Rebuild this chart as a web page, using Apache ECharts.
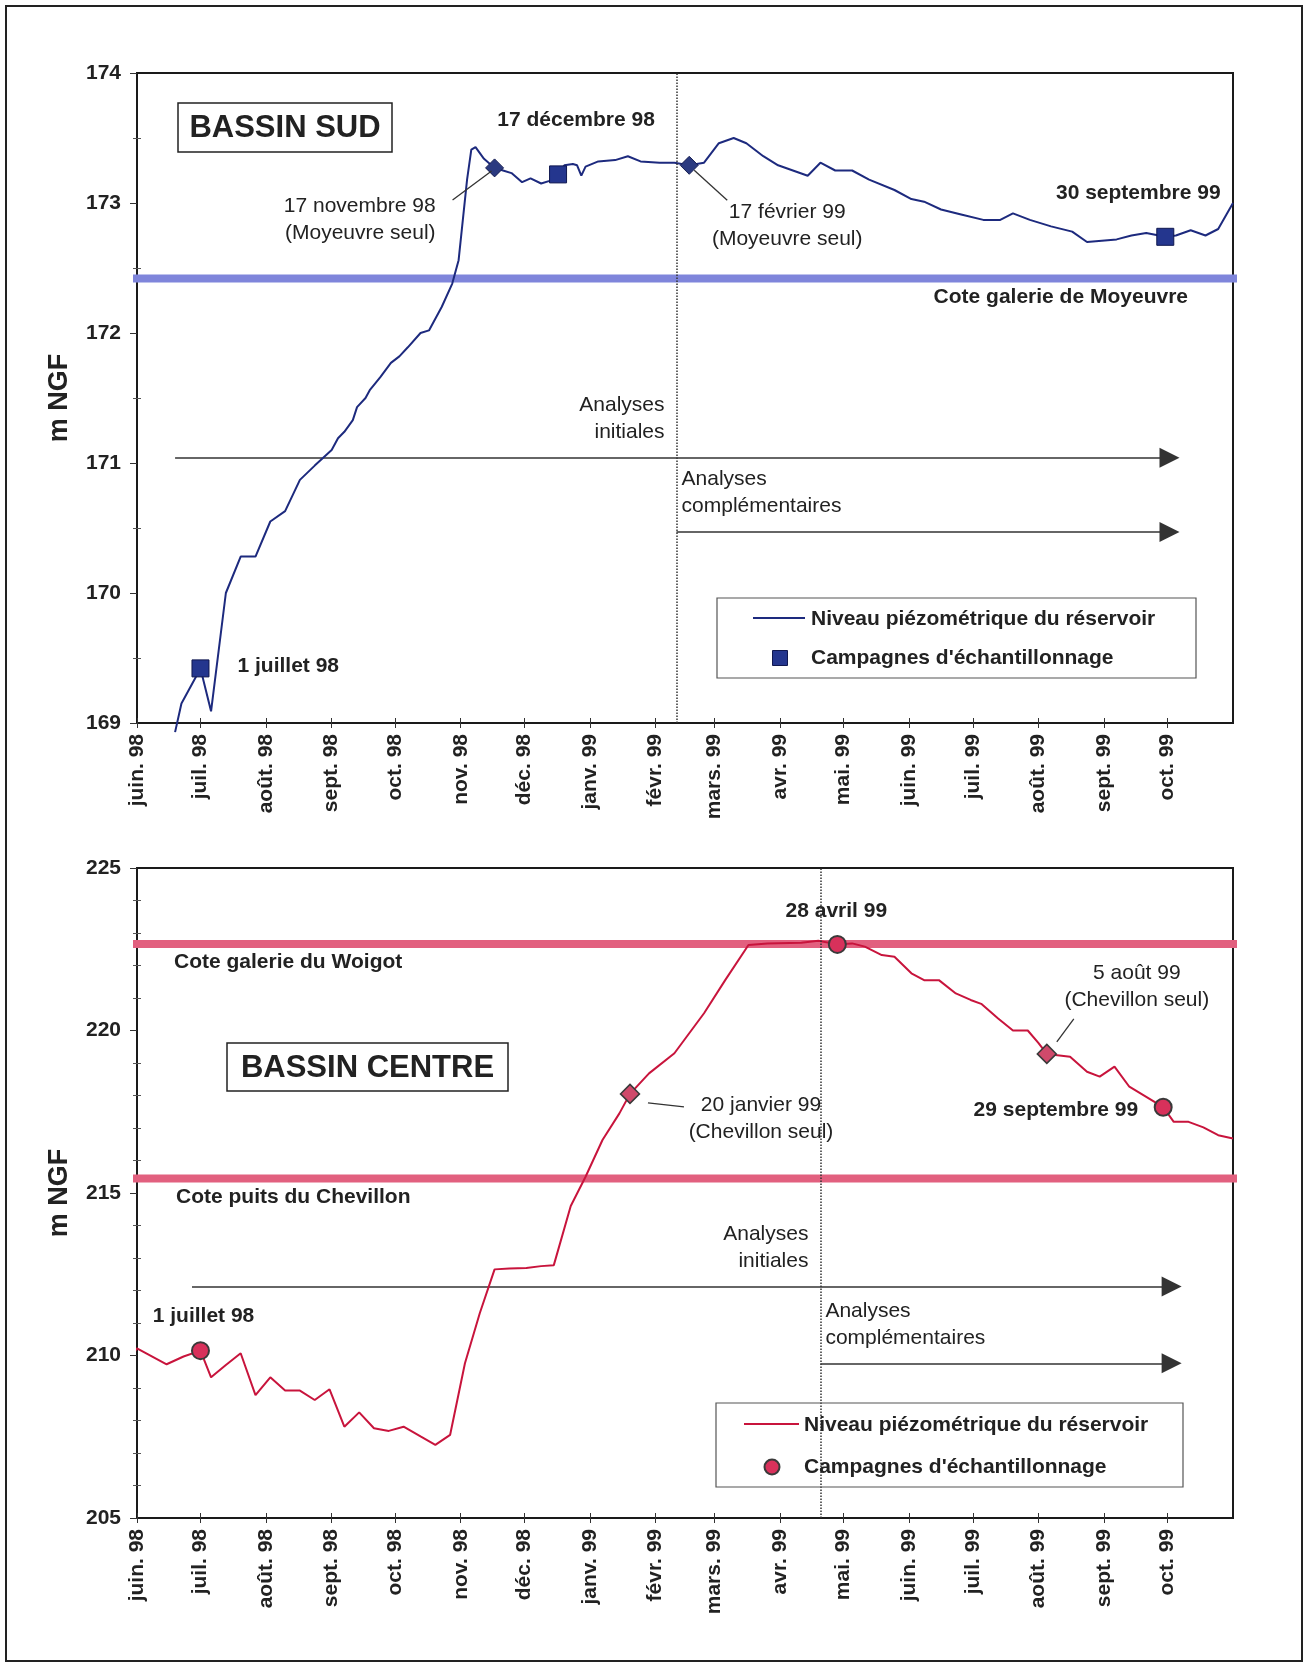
<!DOCTYPE html>
<html lang="fr">
<head>
<meta charset="utf-8">
<title>Niveaux piézométriques – Bassins Sud et Centre</title>
<script src="https://cdn.jsdelivr.net/npm/echarts@6.0.0/dist/echarts.min.js"></script>
<style>
  html, body { margin: 0; padding: 0; background: #fff; }
  #page { position: relative; width: 1305px; height: 1667px; background: #fff; overflow: hidden; }
  #sud { position: absolute; left: 0; top: 0; width: 1305px; height: 830px; }
  #centre { position: absolute; left: 0; top: 830px; width: 1305px; height: 837px; }
  #frame { position: absolute; left: 5px; top: 5px; width: 1298px; height: 1657px; box-sizing: border-box;
           border: 2px solid #222; pointer-events: none; z-index: 10; }
</style>
</head>
<body>
<div id="page">
  <div id="sud"></div>
  <div id="centre"></div>
  <div id="frame"></div>
</div>
<script>
// ---- Time axis: one tick per month, June 1998 to October 1999 ----
const monthTicks = ['1998-06-01','1998-07-01','1998-08-01','1998-09-01','1998-10-01','1998-11-01',
  '1998-12-01','1999-01-01','1999-02-01','1999-03-01','1999-04-01','1999-05-01','1999-06-01',
  '1999-07-01','1999-08-01','1999-09-01','1999-10-01'];
const monthLabels = ['juin. 98','juil. 98','août. 98','sept. 98','oct. 98','nov. 98','déc. 98',
  'janv. 99','févr. 99','mars. 99','avr. 99','mai. 99','juin. 99','juil. 99','août. 99','sept. 99','oct. 99'];
const axisStart = '1998-06-01';
const axisEnd = '1999-11-01';

// ---- Bassin Sud: reservoir level (m NGF) ----
const sudDates = ['1998-06-19','1998-06-22','1998-07-01','1998-07-06','1998-07-13','1998-07-20','1998-07-27',
  '1998-08-03','1998-08-10','1998-08-17','1998-08-24','1998-09-01','1998-09-04','1998-09-07','1998-09-11',
  '1998-09-13','1998-09-17','1998-09-19','1998-09-24','1998-09-29','1998-10-03','1998-10-07','1998-10-13',
  '1998-10-17','1998-10-23','1998-10-28','1998-10-31','1998-11-02','1998-11-04','1998-11-06','1998-11-08',
  '1998-11-12','1998-11-17','1998-11-21','1998-11-25','1998-11-30','1998-12-04','1998-12-09','1998-12-13',
  '1998-12-17','1998-12-20','1998-12-24','1998-12-26','1998-12-28','1998-12-30','1999-01-05','1999-01-13',
  '1999-01-19','1999-01-25','1999-02-03','1999-02-10','1999-02-17','1999-02-24','1999-03-03','1999-03-10',
  '1999-03-16','1999-03-24','1999-03-31','1999-04-07','1999-04-14','1999-04-20','1999-04-27','1999-05-05',
  '1999-05-13','1999-05-25','1999-06-02','1999-06-08','1999-06-16','1999-06-26','1999-07-06','1999-07-14',
  '1999-07-20','1999-07-28','1999-08-07','1999-08-17','1999-08-24','1999-08-31','1999-09-07','1999-09-14',
  '1999-09-21','1999-09-30','1999-10-05','1999-10-12','1999-10-19','1999-10-25','1999-11-01'];
const sudLevels = [168.93,169.15,169.42,169.09,170.00,170.28,170.28,
  170.55,170.63,170.87,170.98,171.10,171.19,171.24,171.33,
  171.43,171.50,171.56,171.66,171.77,171.82,171.89,172.00,
  172.02,172.20,172.38,172.56,172.87,173.18,173.41,173.43,
  173.34,173.27,173.25,173.23,173.16,173.19,173.15,173.17,
  173.22,173.29,173.30,173.29,173.21,173.28,173.32,173.33,
  173.36,173.32,173.31,173.31,173.29,173.31,173.46,173.50,
  173.46,173.36,173.29,173.25,173.21,173.31,173.25,173.25,
  173.18,173.10,173.03,173.01,172.95,172.91,172.87,172.87,
  172.92,172.87,172.82,172.78,172.70,172.71,172.72,172.75,
  172.77,172.74,172.75,172.79,172.75,172.80,173.00];
const sudCampaignDates = ['1998-07-01','1998-12-17','1999-09-30'];
const sudCampaignLevels = [169.42, 173.22, 172.74];
const sudSingleDates = ['1998-11-17','1999-02-17'];
const sudSingleLevels = [173.27, 173.29];
const sudGalleryLevel = 172.42;        // cote galerie de Moyeuvre
const sudSplitDate = '1999-02-11';

// ---- Bassin Centre: reservoir level (m NGF) ----
const centreDates = ['1998-05-27','1998-06-01','1998-06-15','1998-06-23','1998-07-01','1998-07-06','1998-07-13',
  '1998-07-20','1998-07-27','1998-08-03','1998-08-10','1998-08-17','1998-08-24','1998-08-31','1998-09-07',
  '1998-09-14','1998-09-21','1998-09-28','1998-10-05','1998-10-13','1998-10-20','1998-10-27','1998-11-03',
  '1998-11-10','1998-11-17','1998-11-24','1998-12-02','1998-12-09','1998-12-15','1998-12-23','1998-12-30',
  '1999-01-07','1999-01-15','1999-01-20','1999-01-29','1999-02-10','1999-02-24','1999-03-06','1999-03-17',
  '1999-03-26','1999-04-11','1999-04-19','1999-04-28','1999-05-05','1999-05-11','1999-05-19','1999-05-25',
  '1999-06-02','1999-06-08','1999-06-15','1999-06-23','1999-06-30','1999-07-05','1999-07-13','1999-07-20',
  '1999-07-27','1999-08-01','1999-08-05','1999-08-16','1999-08-24','1999-08-30','1999-09-06','1999-09-13',
  '1999-09-21','1999-09-29','1999-10-04','1999-10-11','1999-10-18','1999-10-25','1999-11-01'];
const centreLevels = [209.76,210.22,209.73,209.97,210.15,209.33,209.71,
  210.07,208.78,209.33,208.92,208.92,208.63,208.96,207.81,
  208.25,207.76,207.68,207.81,207.51,207.25,207.56,209.76,
  211.30,212.65,212.68,212.69,212.75,212.78,214.60,215.50,
  216.63,217.45,218.05,218.68,219.30,220.53,221.55,222.63,
  222.68,222.70,222.76,222.65,222.68,222.58,222.32,222.27,
  221.76,221.55,221.55,221.14,220.94,220.82,220.37,220.00,
  220.00,219.62,219.28,219.19,218.73,218.58,218.89,218.27,
  217.96,217.64,217.19,217.19,217.02,216.78,216.68];
const centreCampaignDates = ['1998-07-01','1999-04-28','1999-09-29'];
const centreCampaignLevels = [210.15, 222.65, 217.64];
const centreSingleDates = ['1999-01-20','1999-08-05'];
const centreSingleLevels = [218.05, 219.28];
const centreGalleryLevel = 222.66;     // cote galerie du Woigot
const centreShaftLevel = 215.45;       // cote puits du Chevillon
const centreSplitDate = '1999-04-20';

// ---- helpers ----
const FONT = "'Liberation Sans', Arial, Helvetica, sans-serif";
const INK = '#222';
const DAY0 = Date.UTC(1998, 5, 1);
function dayOf(iso) {
  const p = iso.split('-').map(Number);
  return (Date.UTC(p[0], p[1] - 1, p[2]) - DAY0) / 86400000;
}
function pairs(dates, values) { return dates.map((d, i) => [dayOf(d), values[i]]); }
const tickDays = monthTicks.map(dayOf);
const xMin = dayOf(axisStart);
const xMax = dayOf(axisEnd);
const LINE_NAME = 'Niveau piézométrique du réservoir';
const MARK_NAME = "Campagnes d'échantillonnage";

// ---- panel layouts ----
const panels = [
  {
    el: 'sud',
    grid: { left: 137, top: 73, width: 1096, height: 650 },
    y: { min: 169, max: 174, interval: 1, minor: 2 },
    line: { dates: sudDates, levels: sudLevels, color: '#1d2a7e' },
    campaigns: { dates: sudCampaignDates, levels: sudCampaignLevels, symbol: 'rect', size: 17,
                 color: '#24368e', border: '#10184f', borderWidth: 1 },
    single: { dates: sudSingleDates, levels: sudSingleLevels, size: 18,
              color: '#2b3a80', border: '#141c50', borderWidth: 1 },
    bands: [{ level: sudGalleryLevel, color: '#7f85db' }],
    split: sudSplitDate,
    arrows: [{ from: '1998-06-19', to: '1999-10-02', level: 171.04 },
             { from: sudSplitDate, to: '1999-10-02', level: 170.47 }],
    notes: [
      { mark: 'campaigns', i: 1, text: '17 décembre 98', bold: true, dx: 18, dy: -54 },
      { mark: 'single', i: 0, text: '17 novembre 98\n(Moyeuvre seul)', dx: -59, dy: 52, align: 'right',
        leader: [-3, 3, -42, 32] },
      { mark: 'single', i: 1, text: '17 février 99\n(Moyeuvre seul)', dx: 98, dy: 60, leader: [5, 5, 38, 35] },
      { mark: 'campaigns', i: 2, text: '30 septembre 99', bold: true, dx: -27, dy: -44 },
      { mark: 'campaigns', i: 0, text: '1 juillet 98', bold: true, dx: 37, dy: -2, align: 'left' }
    ],
    bandNotes: [{ band: 0, side: 'right', text: 'Cote galerie de Moyeuvre', dx: -45, dy: 19, align: 'right' }],
    arrowNotes: [
      { arrow: 0, text: 'Analyses\ninitiales', dx: -12, dy: -39, align: 'right' },
      { arrow: 1, text: 'Analyses\ncomplémentaires', dx: 5, dy: -39, align: 'left' }
    ],
    box: { x: 178, y: 103, w: 214, h: 49, text: 'BASSIN SUD' },
    legend: { x: 717, y: 598, w: 479, h: 80, lineY: 618, lineX1: 753, lineX2: 805, textX: 811,
              markX: 780, markY: 658 }
  },
  {
    el: 'centre',
    grid: { left: 137, top: 38, width: 1096, height: 650 },
    y: { min: 205, max: 225, interval: 5, minor: 5 },
    line: { dates: centreDates, levels: centreLevels, color: '#c8143c' },
    campaigns: { dates: centreCampaignDates, levels: centreCampaignLevels, symbol: 'circle', size: 17,
                 color: '#d8315b', border: '#3a3a3a', borderWidth: 2 },
    single: { dates: centreSingleDates, levels: centreSingleLevels, size: 19,
              color: '#cf4a6b', border: '#3a3a3a', borderWidth: 1.5 },
    bands: [{ level: centreGalleryLevel, color: '#e2607f' }, { level: centreShaftLevel, color: '#e2607f' }],
    split: centreSplitDate,
    arrows: [{ from: '1998-06-27', to: '1999-10-03', level: 212.12 },
             { from: centreSplitDate, to: '1999-10-03', level: 209.76 }],
    notes: [
      { mark: 'campaigns', i: 1, text: '28 avril 99', bold: true, dx: -1, dy: -33 },
      { mark: 'single', i: 0, text: '20 janvier 99\n(Chevillon seul)', dx: 131, dy: 25, leader: [18, 9, 54, 13] },
      { mark: 'single', i: 1, text: '5 août 99\n(Chevillon seul)', dx: 90, dy: -67, leader: [10, -12, 27, -35] },
      { mark: 'campaigns', i: 2, text: '29 septembre 99', bold: true, dx: -25, dy: 3, align: 'right' },
      { mark: 'campaigns', i: 0, text: '1 juillet 98', bold: true, dx: 3, dy: -34 }
    ],
    bandNotes: [
      { band: 0, side: 'left', text: 'Cote galerie du Woigot', dx: 37, dy: 18, align: 'left' },
      { band: 1, side: 'left', text: 'Cote puits du Chevillon', dx: 39, dy: 19, align: 'left' }
    ],
    arrowNotes: [
      { arrow: 0, text: 'Analyses\ninitiales', dx: -12, dy: -39, align: 'right' },
      { arrow: 1, text: 'Analyses\ncomplémentaires', dx: 5, dy: -39, align: 'left' }
    ],
    box: { x: 227, y: 213, w: 281, h: 48, text: 'BASSIN CENTRE' },
    legend: { x: 716, y: 573, w: 467, h: 84, lineY: 594, lineX1: 744, lineX2: 799, textX: 804,
              markX: 772, markY: 637 }
  }
];

function buildOption(P) {
  const pxPerDay = P.grid.width / (xMax - xMin);
  const over = 8 / pxPerDay;   // reference bands run slightly past the plot frame
  const labelStyle = { fontFamily: FONT, fontSize: 21, fontWeight: 'bold', color: INK };
  const xBase = { type: 'value', min: xMin, max: xMax, position: 'bottom', splitLine: { show: false } };
  const yBase = { type: 'value', min: P.y.min, max: P.y.max, interval: P.y.interval, position: 'left',
                  splitLine: { show: false }, minorSplitLine: { show: false } };
  const series = [];
  P.bands.forEach(b => series.push({
    type: 'line', data: [[xMin - over, b.level], [xMax + over, b.level]], clip: false,
    symbol: 'none', silent: true, z: 1, lineStyle: { color: b.color, width: 8 }
  }));
  series.push({
    type: 'line', name: LINE_NAME, data: pairs(P.line.dates, P.line.levels), clip: false,
    symbol: 'none', silent: true, z: 4, lineStyle: { color: P.line.color, width: 2 },
    markLine: {
      silent: true, symbol: 'none', label: { show: false }, animation: false,
      lineStyle: { type: 'dotted', color: '#333', width: 1.5 },
      data: [{ xAxis: dayOf(P.split) }]
    }
  });
  series.push({
    type: 'lines', coordinateSystem: 'cartesian2d', silent: true, z: 3,
    symbol: ['none', 'triangle'], symbolSize: 20,
    lineStyle: { color: '#333', width: 1.6, opacity: 1 },
    data: P.arrows.map(a => ({ coords: [[dayOf(a.from), a.level], [dayOf(a.to), a.level]] }))
  });
  series.push({
    type: 'scatter', name: MARK_NAME, data: pairs(P.campaigns.dates, P.campaigns.levels),
    symbol: P.campaigns.symbol, symbolSize: P.campaigns.size, silent: true, z: 6,
    itemStyle: { color: P.campaigns.color, borderColor: P.campaigns.border, borderWidth: P.campaigns.borderWidth, opacity: 1 }
  });
  series.push({
    type: 'scatter', data: pairs(P.single.dates, P.single.levels),
    symbol: 'diamond', symbolSize: P.single.size, silent: true, z: 6,
    itemStyle: { color: P.single.color, borderColor: P.single.border, borderWidth: P.single.borderWidth, opacity: 1 }
  });
  return {
    animation: false,
    backgroundColor: 'transparent',
    textStyle: { fontFamily: FONT },
    grid: Object.assign({ show: true, borderColor: '#1a1a1a', borderWidth: 2,
                          backgroundColor: 'transparent', containLabel: false, outerBoundsMode: 'none' }, P.grid),
    xAxis: [
      Object.assign({}, xBase, {
        axisLine: { show: true, lineStyle: { color: '#1a1a1a', width: 2 } },
        axisTick: { show: true, length: 5, customValues: tickDays, lineStyle: { color: '#333', width: 1 } },
        axisLabel: Object.assign({ customValues: tickDays, rotate: 90, margin: 11,
          formatter: v => monthLabels[tickDays.indexOf(v)] || '' }, labelStyle)
      }),
      Object.assign({}, xBase, {
        axisLine: { show: false },
        axisTick: { show: true, inside: true, length: 5, customValues: tickDays, lineStyle: { color: '#333', width: 1 } },
        axisLabel: { show: false }
      })
    ],
    yAxis: [
      Object.assign({}, yBase, {
        axisLine: { show: true, lineStyle: { color: '#1a1a1a', width: 2 } },
        axisTick: { show: true, length: 7, lineStyle: { color: '#333', width: 1 } },
        minorTick: { show: true, splitNumber: P.y.minor, length: 4, lineStyle: { color: '#555', width: 1 } },
        axisLabel: Object.assign({ margin: 16 }, labelStyle),
        name: 'm NGF', nameLocation: 'middle', nameRotate: 90, nameGap: 64,
        nameTextStyle: { fontFamily: FONT, fontSize: 27, fontWeight: 'bold', color: INK }
      }),
      Object.assign({}, yBase, {
        axisLine: { show: false },
        axisTick: { show: false, inside: true },
        minorTick: { show: true, splitNumber: P.y.minor, length: 4, lineStyle: { color: '#555', width: 1 } },
        axisLabel: { show: false }
      })
    ],
    series: series
  };
}

function decorate(chart, P) {
  const toPx = (x, v) => chart.convertToPixel({ xAxisIndex: 0, yAxisIndex: 0 }, [x, v]);
  const els = [];
  const addText = (x, y, str, o) => {
    const align = o.align || 'center';
    els.push({ type: 'text', x: x, y: y, z: 60, silent: true, style: {
      text: str, fill: INK, font: (o.bold ? 'bold ' : '') + (o.size || 21) + 'px ' + FONT,
      align: align, verticalAlign: 'middle', textAlign: align, textVerticalAlign: 'middle', lineHeight: 27 } });
  };
  const segment = (x1, y1, x2, y2, w) => els.push({ type: 'line', z: 55, silent: true,
    shape: { x1: x1, y1: y1, x2: x2, y2: y2 }, style: { stroke: '#333', lineWidth: w || 1.3 } });

  // annotations next to sampling markers
  P.notes.forEach(n => {
    const src = P[n.mark];
    const p = toPx(dayOf(src.dates[n.i]), src.levels[n.i]);
    addText(p[0] + n.dx, p[1] + n.dy, n.text, n);
    if (n.leader) segment(p[0] + n.leader[0], p[1] + n.leader[1], p[0] + n.leader[2], p[1] + n.leader[3]);
  });
  // labels under the reference levels
  P.bandNotes.forEach(n => {
    const p = toPx(n.side === 'right' ? xMax : xMin, P.bands[n.band].level);
    addText(p[0] + n.dx, p[1] + n.dy, n.text, { bold: true, align: n.align });
  });
  // labels above the analysis arrows, anchored on the split date
  P.arrowNotes.forEach(n => {
    const p = toPx(dayOf(P.split), P.arrows[n.arrow].level);
    addText(p[0] + n.dx, p[1] + n.dy, n.text, { align: n.align });
  });
  // basin title box
  const b = P.box;
  els.push({ type: 'rect', z: 50, silent: true, shape: { x: b.x, y: b.y, width: b.w, height: b.h },
             style: { fill: '#fff', stroke: '#222', lineWidth: 1.5 } });
  addText(b.x + b.w / 2, b.y + b.h / 2 + 1, b.text, { bold: true, size: 31 });
  // legend
  const L = P.legend;
  els.push({ type: 'rect', z: 50, silent: true, shape: { x: L.x, y: L.y, width: L.w, height: L.h },
             style: { fill: 'none', stroke: '#555', lineWidth: 1.2 } });
  segment(L.lineX1, L.lineY, L.lineX2, L.lineY, 2);
  els[els.length - 1].style.stroke = P.line.color;
  addText(L.textX, L.lineY + 1, LINE_NAME, { bold: true, align: 'left' });
  const c = P.campaigns;
  if (c.symbol === 'rect') {
    els.push({ type: 'rect', z: 55, silent: true,
               shape: { x: L.markX - c.size / 2 + 1, y: L.markY - c.size / 2 + 1, width: c.size - 2, height: c.size - 2 },
               style: { fill: c.color, stroke: c.border, lineWidth: c.borderWidth } });
  } else {
    els.push({ type: 'circle', z: 55, silent: true, shape: { cx: L.markX, cy: L.markY, r: c.size / 2 - 1 },
               style: { fill: c.color, stroke: c.border, lineWidth: c.borderWidth } });
  }
  addText(L.textX, L.markY, MARK_NAME, { bold: true, align: 'left' });

  chart.setOption({ graphic: { elements: els } });
}

panels.forEach(P => {
  const chart = echarts.init(document.getElementById(P.el), null, { renderer: 'canvas' });
  chart.setOption(buildOption(P));
  decorate(chart, P);
});
</script>
</body>
</html>
